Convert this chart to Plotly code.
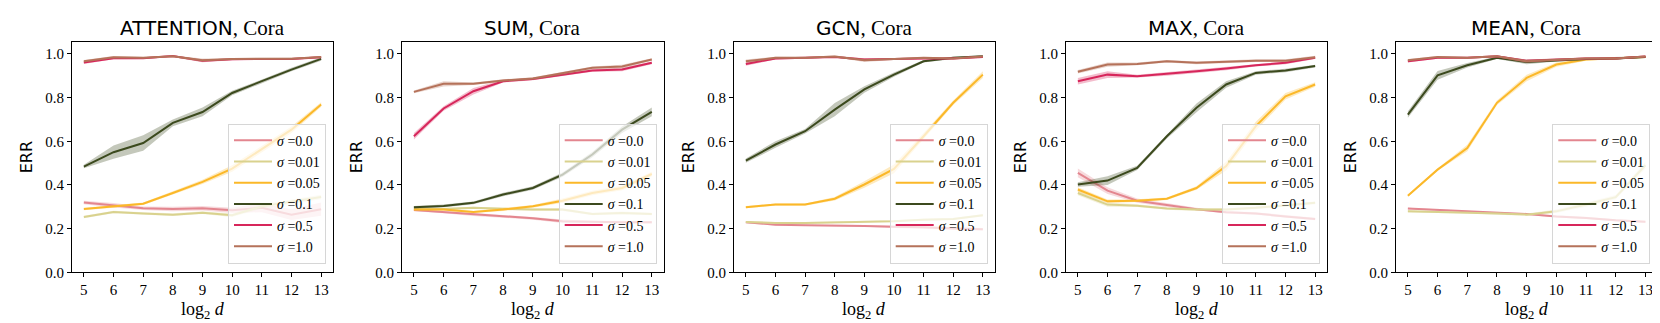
import plotly.graph_objects as go

W, H = 1660, 323

d_log2 = [5, 6, 7, 8, 9, 10, 11, 12, 13]
sigmas = ["0.0", "0.01", "0.05", "0.1", "0.5", "1.0"]
colors = ["#e3868f", "#d9d28e", "#fbb829", "#3c4a1e", "#d7265b", "#b5725a"]
models = ["ATTENTION", "SUM", "GCN", "MAX", "MEAN"]
dataset = "Cora"

# mean ERR per sigma (rows follow sigmas)
attention_err = [
    [0.32, 0.307, 0.293, 0.29, 0.293, 0.284, 0.295, 0.264, 0.289],
    [0.253, 0.276, 0.269, 0.264, 0.273, 0.261, 0.302, 0.325, 0.345],
    [0.29, 0.302, 0.314, 0.363, 0.414, 0.475, 0.562, 0.653, 0.768],
    [0.484, 0.55, 0.592, 0.684, 0.734, 0.821, 0.875, 0.928, 0.977],
    [0.96, 0.98, 0.98, 0.99, 0.968, 0.975, 0.977, 0.977, 0.985],
    [0.966, 0.985, 0.982, 0.989, 0.971, 0.977, 0.978, 0.978, 0.986],
]
sum_err = [
    [0.285, 0.276, 0.264, 0.255, 0.247, 0.234, 0.23, 0.229, 0.229],
    [0.292, 0.29, 0.295, 0.29, 0.287, 0.287, 0.267, 0.272, 0.267],
    [0.287, 0.287, 0.276, 0.287, 0.302, 0.328, 0.363, 0.386, 0.45],
    [0.298, 0.304, 0.318, 0.356, 0.386, 0.447, 0.539, 0.653, 0.734],
    [0.623, 0.75, 0.829, 0.875, 0.885, 0.905, 0.924, 0.928, 0.959],
    [0.826, 0.863, 0.863, 0.878, 0.887, 0.91, 0.936, 0.942, 0.974],
]
gcn_err = [
    [0.229, 0.218, 0.215, 0.215, 0.212, 0.208, 0.206, 0.2, 0.197],
    [0.23, 0.226, 0.226, 0.229, 0.232, 0.234, 0.241, 0.244, 0.261],
    [0.298, 0.31, 0.31, 0.337, 0.402, 0.473, 0.623, 0.776, 0.905],
    [0.511, 0.585, 0.646, 0.745, 0.837, 0.905, 0.966, 0.982, 0.989],
    [0.954, 0.979, 0.982, 0.986, 0.974, 0.977, 0.979, 0.979, 0.986],
    [0.966, 0.982, 0.982, 0.988, 0.971, 0.976, 0.982, 0.979, 0.988],
]
max_err = [
    [0.455, 0.374, 0.328, 0.307, 0.289, 0.275, 0.269, 0.256, 0.244],
    [0.363, 0.31, 0.305, 0.292, 0.287, 0.287, 0.295, 0.305, 0.318],
    [0.379, 0.325, 0.328, 0.337, 0.386, 0.486, 0.669, 0.806, 0.86],
    [0.402, 0.42, 0.478, 0.623, 0.753, 0.86, 0.913, 0.924, 0.944],
    [0.875, 0.905, 0.898, 0.908, 0.921, 0.933, 0.948, 0.959, 0.982],
    [0.918, 0.951, 0.954, 0.966, 0.959, 0.963, 0.969, 0.969, 0.985],
]
mean_err = [
    [0.292, 0.285, 0.279, 0.272, 0.267, 0.256, 0.249, 0.238, 0.231],
    [0.279, 0.276, 0.275, 0.269, 0.264, 0.279, 0.31, 0.344, 0.49],
    [0.351, 0.47, 0.569, 0.776, 0.89, 0.951, 0.974, 0.979, 0.986],
    [0.722, 0.902, 0.948, 0.982, 0.963, 0.971, 0.977, 0.979, 0.986],
    [0.966, 0.982, 0.982, 0.989, 0.968, 0.974, 0.979, 0.979, 0.988],
    [0.971, 0.986, 0.982, 0.989, 0.966, 0.974, 0.979, 0.979, 0.988],
]

# half width of the shaded band
attention_band = [
    [0.008, 0.01, 0.008, 0.01, 0.01, 0.012, 0.02, 0.025, 0.03],
    [0.006, 0.006, 0.006, 0.006, 0.006, 0.008, 0.01, 0.01, 0.01],
    [0.006, 0.006, 0.006, 0.008, 0.01, 0.015, 0.015, 0.015, 0.01],
    [0.008, 0.03, 0.035, 0.015, 0.02, 0.01, 0.008, 0.008, 0.008],
    [0.006, 0.005, 0.004, 0.004, 0.006, 0.004, 0.004, 0.004, 0.004],
    [0.006, 0.005, 0.004, 0.004, 0.008, 0.004, 0.004, 0.004, 0.004],
]
sum_band = [
    [0.006, 0.006, 0.006, 0.006, 0.006, 0.008, 0.006, 0.006, 0.006],
    [0.005, 0.005, 0.005, 0.005, 0.005, 0.006, 0.006, 0.006, 0.006],
    [0.005, 0.005, 0.005, 0.006, 0.006, 0.01, 0.01, 0.01, 0.01],
    [0.006, 0.006, 0.006, 0.008, 0.008, 0.01, 0.012, 0.015, 0.02],
    [0.015, 0.01, 0.015, 0.006, 0.006, 0.006, 0.006, 0.008, 0.006],
    [0.006, 0.012, 0.006, 0.006, 0.006, 0.008, 0.006, 0.008, 0.006],
]
gcn_band = [
    [0.004, 0.004, 0.004, 0.004, 0.004, 0.005, 0.006, 0.006, 0.006],
    [0.004, 0.004, 0.004, 0.004, 0.004, 0.004, 0.005, 0.005, 0.006],
    [0.005, 0.005, 0.005, 0.008, 0.015, 0.02, 0.015, 0.01, 0.015],
    [0.01, 0.015, 0.01, 0.03, 0.015, 0.01, 0.006, 0.005, 0.004],
    [0.008, 0.005, 0.004, 0.004, 0.006, 0.004, 0.004, 0.004, 0.004],
    [0.008, 0.005, 0.004, 0.004, 0.008, 0.004, 0.004, 0.004, 0.004],
]
max_band = [
    [0.02, 0.015, 0.01, 0.008, 0.006, 0.006, 0.006, 0.006, 0.006],
    [0.01, 0.01, 0.006, 0.006, 0.006, 0.006, 0.006, 0.006, 0.006],
    [0.01, 0.008, 0.006, 0.006, 0.008, 0.02, 0.02, 0.015, 0.01],
    [0.01, 0.02, 0.01, 0.01, 0.02, 0.015, 0.008, 0.008, 0.006],
    [0.015, 0.015, 0.006, 0.008, 0.008, 0.008, 0.006, 0.006, 0.006],
    [0.008, 0.01, 0.006, 0.006, 0.006, 0.006, 0.006, 0.006, 0.006],
]
mean_band = [
    [0.004, 0.004, 0.004, 0.004, 0.004, 0.005, 0.005, 0.005, 0.005],
    [0.005, 0.005, 0.005, 0.005, 0.005, 0.008, 0.01, 0.01, 0.015],
    [0.005, 0.005, 0.015, 0.01, 0.015, 0.01, 0.005, 0.005, 0.004],
    [0.015, 0.02, 0.01, 0.006, 0.01, 0.006, 0.005, 0.005, 0.004],
    [0.006, 0.004, 0.004, 0.004, 0.006, 0.004, 0.004, 0.004, 0.004],
    [0.006, 0.004, 0.004, 0.004, 0.008, 0.004, 0.004, 0.004, 0.004],
]

all_err = [attention_err, sum_err, gcn_err, max_err, mean_err]
all_band = [attention_band, sum_band, gcn_band, max_band, mean_band]

# panel boxes in pixels
lefts = [64, 394, 726, 1058, 1388]
rights = [325, 655.7, 986.7, 1319, 1649.3]
top_px, bot_px = 34.3, 264.3

SERIF = "Liberation Serif, serif"
SANS = "DejaVu Sans, sans-serif"


def rgba(hexc, a):
    h = hexc.lstrip("#")
    return "rgba(%d,%d,%d,%s)" % (int(h[0:2], 16), int(h[2:4], 16), int(h[4:6], 16), a)


fig = go.Figure()
annotations = []

for p, model in enumerate(models):
    xa = "x" if p == 0 else "x%d" % (p + 1)
    ya = "y" if p == 0 else "y%d" % (p + 1)
    leg = "legend" if p == 0 else "legend%d" % (p + 1)
    for s, sig in enumerate(sigmas):
        m = all_err[p][s]
        b = all_band[p][s]
        up = [v + e for v, e in zip(m, b)]
        lo = [v - e for v, e in zip(m, b)]
        fig.add_trace(go.Scatter(
            x=d_log2 + d_log2[::-1], y=up + lo[::-1], fill="toself",
            fillcolor=rgba(colors[s], 0.3), line=dict(width=0),
            mode="lines", showlegend=False, hoverinfo="skip",
            xaxis=xa, yaxis=ya))
        fig.add_trace(go.Scatter(
            x=d_log2, y=m, mode="lines", name="<i>σ</i> =" + sig,
            line=dict(color=colors[s], width=2),
            legend=leg, xaxis=xa, yaxis=ya))

    x0, x1 = lefts[p] / W, rights[p] / W
    ax = dict(domain=[x0, x1], range=[4.6, 13.4], tickvals=d_log2,
              anchor=ya, showline=True, mirror=True, linecolor="black",
              linewidth=1.2, ticks="outside", ticklen=4, tickcolor="black",
              tickwidth=1.2, showgrid=False, zeroline=False, automargin=False,
              tickfont=dict(family=SERIF, size=15, color="black"))
    ay = dict(domain=[1 - bot_px / H, 1 - top_px / H], range=[0, 1.053],
              tickvals=[0, 0.2, 0.4, 0.6, 0.8, 1.0], tickformat=".1f",
              anchor=xa, showline=True, mirror=True, linecolor="black",
              linewidth=1.2, ticks="outside", ticklen=4, tickcolor="black",
              tickwidth=1.2, showgrid=False, zeroline=False, automargin=False,
              tickfont=dict(family=SERIF, size=15, color="black"))
    fig.update_layout({("xaxis" if p == 0 else "xaxis%d" % (p + 1)): ax,
                       ("yaxis" if p == 0 else "yaxis%d" % (p + 1)): ay})

    fig.update_layout({leg: dict(
        x=(rights[p] - 7) / W, xanchor="right",
        y=1 - 255.7 / H, yanchor="bottom",
        bgcolor="rgba(255,255,255,0.7)", bordercolor="#d6d6d6", borderwidth=1,
        font=dict(family=SERIF, size=14, color="black"),
        tracegroupgap=0, itemwidth=38)})

    cx = (lefts[p] + rights[p]) / 2 / W
    annotations.append(dict(
        text=model + "<span style='font-family:Liberation Serif;font-size:21px'>, %s</span>" % dataset,
        x=cx, y=1 - 20 / H, xref="paper", yref="paper",
        xanchor="center", yanchor="middle", showarrow=False,
        font=dict(family=SANS, size=20, color="black")))
    annotations.append(dict(
        text="ERR", x=(lefts[p] - 46) / W, y=1 - 149.3 / H,
        xref="paper", yref="paper", xanchor="center", yanchor="middle",
        textangle=-90, showarrow=False,
        font=dict(family=SANS, size=16, color="black")))
    annotations.append(dict(
        text="log<sub>2</sub> <i>d</i>", x=cx, y=1 - 302 / H,
        xref="paper", yref="paper", xanchor="center", yanchor="middle",
        showarrow=False, font=dict(family=SERIF, size=18, color="black")))

fig.update_layout(template="none", width=W, height=H,
                  margin=dict(l=0, r=0, t=0, b=0, pad=0),
                  plot_bgcolor="white", paper_bgcolor="white",
                  annotations=annotations)

fig.write_html("out.html")
